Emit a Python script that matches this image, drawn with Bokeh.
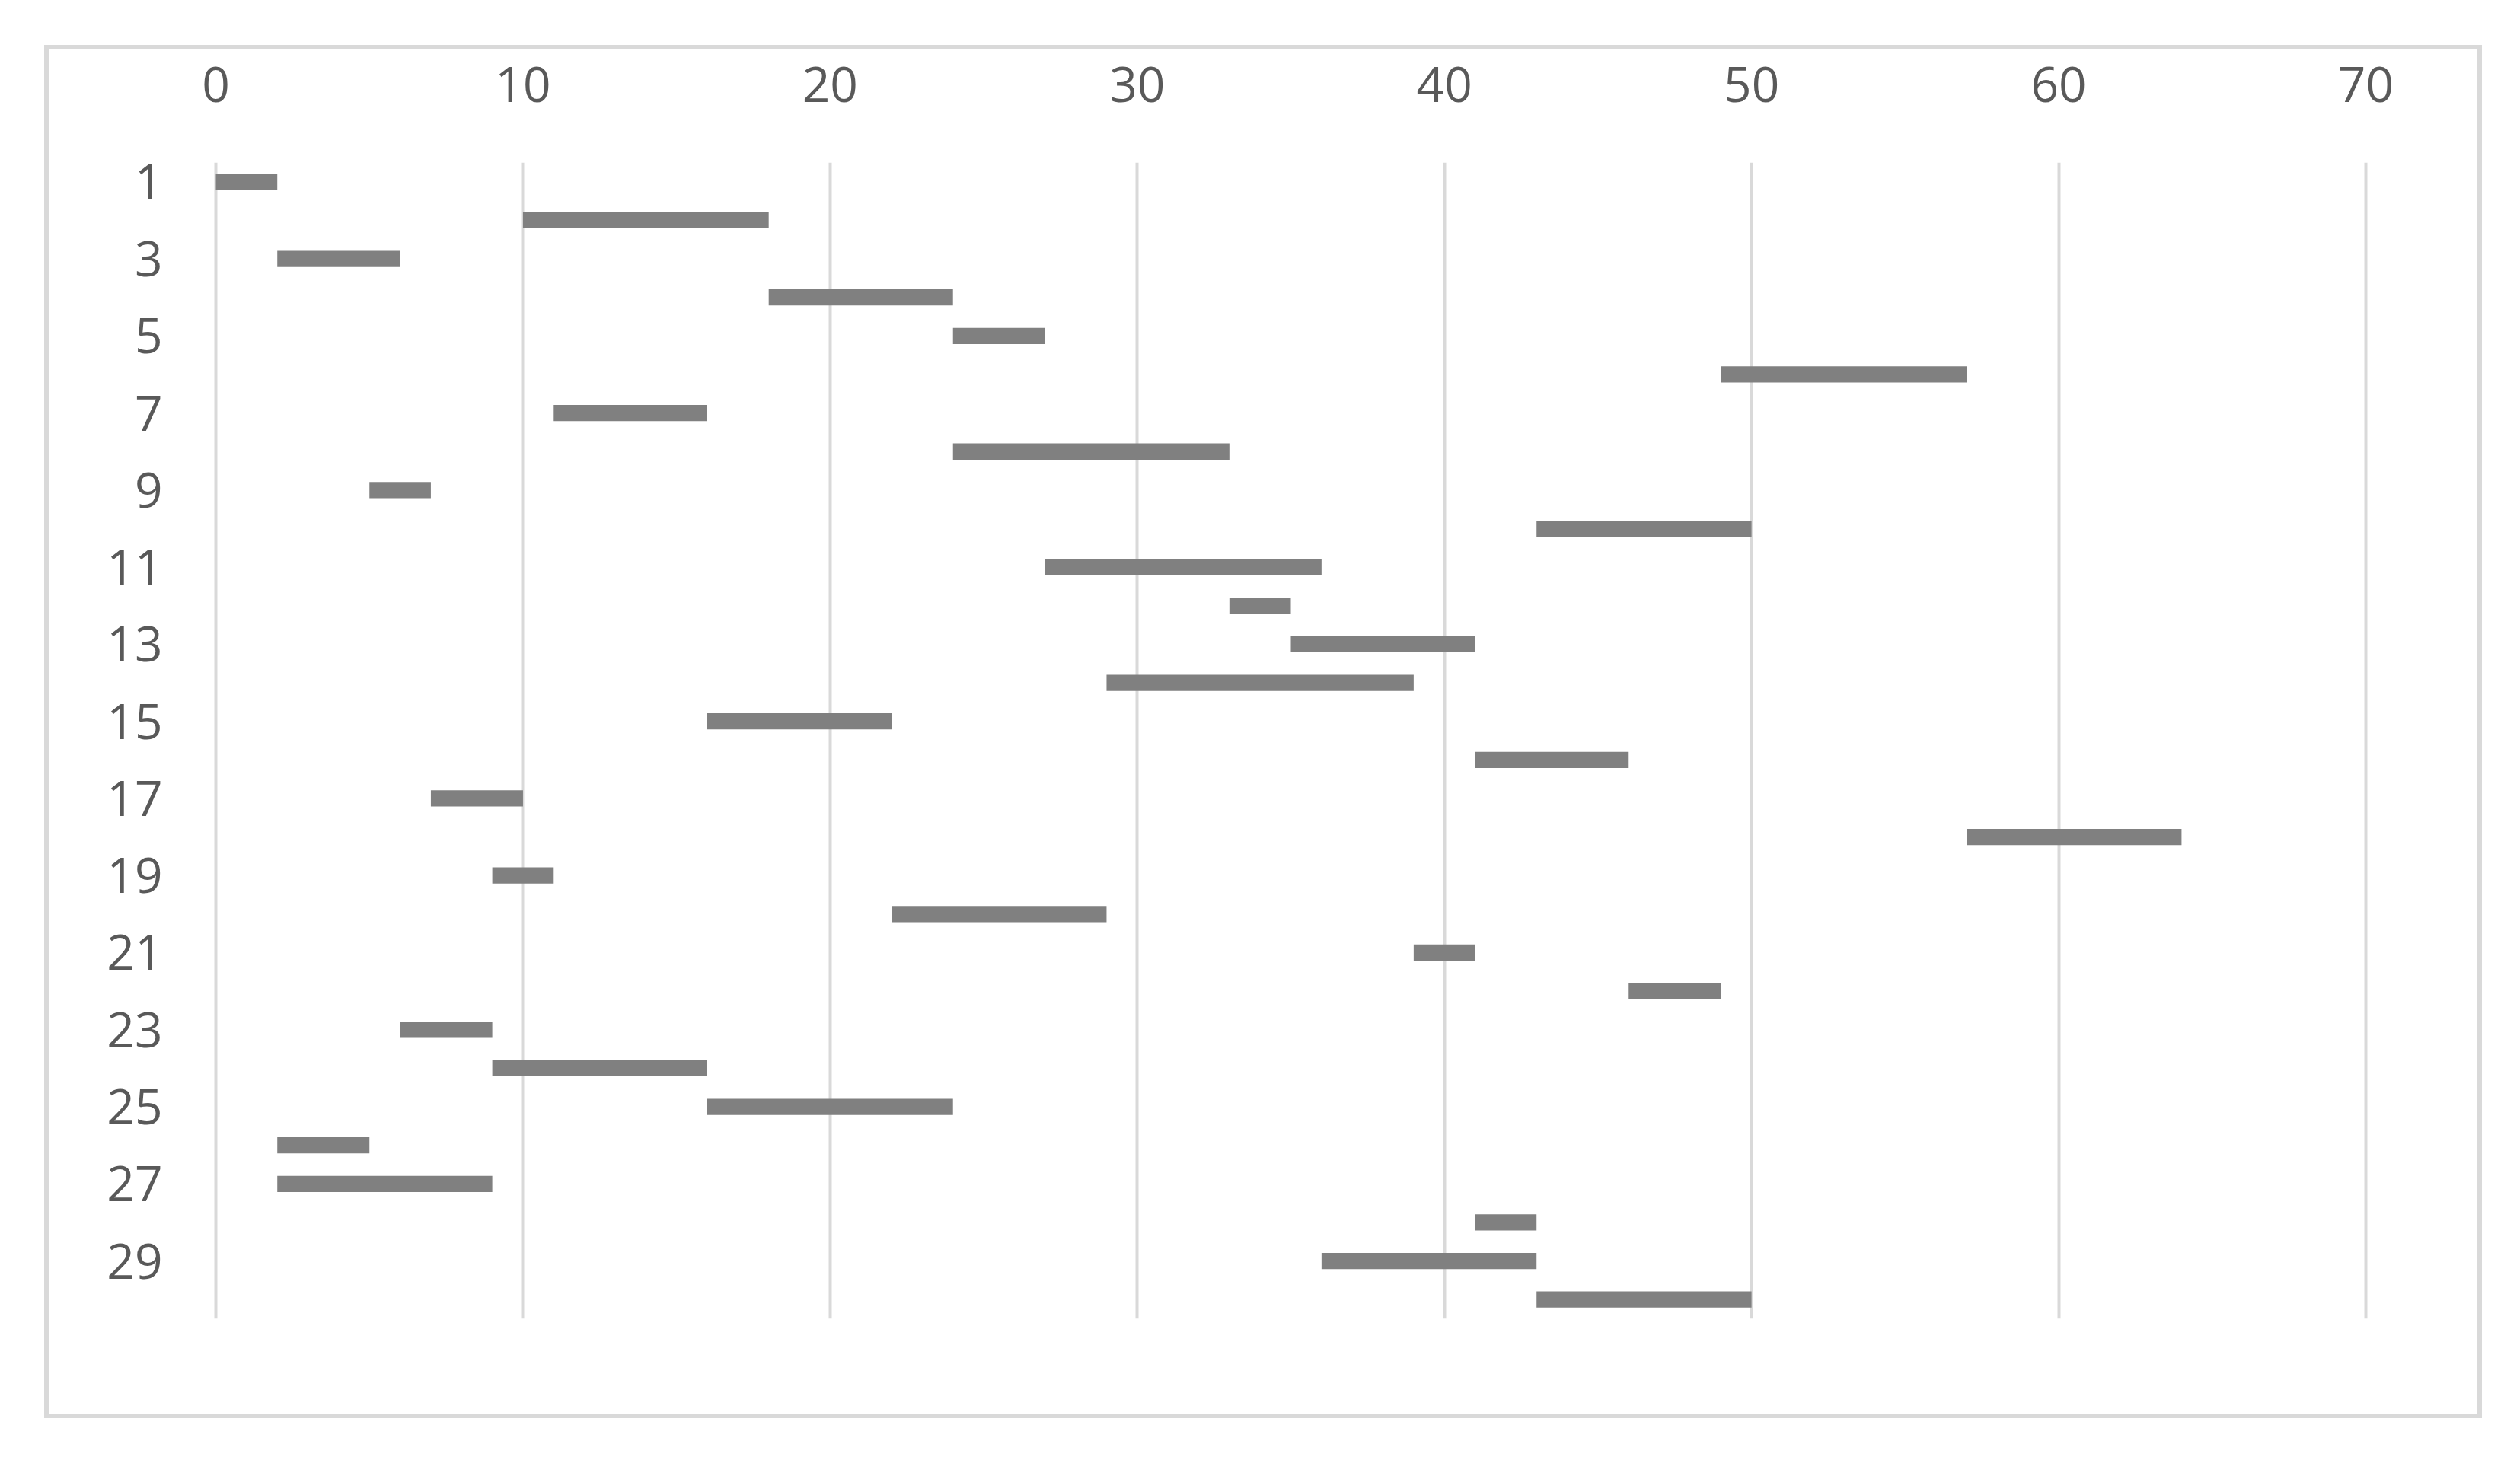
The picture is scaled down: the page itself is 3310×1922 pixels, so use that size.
from bokeh.plotting import figure
from bokeh.models import Range1d, FixedTicker, ColumnDataSource
from bokeh.embed import file_html
from bokeh.resources import INLINE

# ---- data ----
tasks = list(range(1, 31))
start = [0, 10, 2, 18, 24, 49, 11, 24, 5, 43,
         27, 33, 35, 29, 16, 41, 7, 57, 9, 22,
         39, 46, 6, 9, 16, 2, 2, 41, 36, 43]
end = [2, 18, 6, 24, 27, 57, 16, 33, 7, 50,
       36, 35, 41, 39, 22, 46, 10, 64, 11, 29,
       41, 49, 9, 16, 24, 5, 9, 43, 43, 50]
x_ticks = [0, 10, 20, 30, 40, 50, 60, 70]
y_ticks = [1, 3, 5, 7, 9, 11, 13, 15, 17, 19, 21, 23, 25, 27, 29]

W, H = 3190, 1792
FONT = "Open Sans"
TXT = "#595959"
GRID = "#d9d9d9"

src = ColumnDataSource(dict(task=tasks, start=start, end=end))

p = figure(width=W, height=H, output_backend="svg", toolbar_location=None,
           x_range=Range1d(-0.1, 70.1), y_range=Range1d(30.5, 0.5),
           x_axis_location="above",
           min_border_left=215, min_border_right=143,
           min_border_top=148, min_border_bottom=125,
           margin=(65, 0, 0, 64))
p.styles = {"outline": "6px solid #d9d9d9"}
p.outline_line_color = None
p.background_fill_color = "white"
p.border_fill_color = "white"

p.hbar(y="task", left="start", right="end", height=0.42, source=src,
       fill_color="#808080", line_color=None)

xa = p.xaxis[0]
xa.ticker = FixedTicker(ticks=x_ticks)
xa.axis_line_color = None
xa.major_tick_line_color = None
xa.minor_tick_line_color = None
xa.major_label_text_font = FONT
xa.major_label_text_font_size = "64px"
xa.major_label_text_color = TXT
xa.major_label_standoff = 74

ya = p.yaxis[0]
ya.ticker = FixedTicker(ticks=y_ticks)
ya.axis_line_color = None
ya.major_tick_line_color = None
ya.minor_tick_line_color = None
ya.major_label_text_font = FONT
ya.major_label_text_font_size = "64px"
ya.major_label_text_color = TXT
ya.major_label_standoff = 60

p.xgrid.ticker = FixedTicker(ticks=x_ticks)
p.xgrid.grid_line_color = GRID
p.xgrid.grid_line_width = 4
p.ygrid.grid_line_color = None

open("out.html", "w").write(file_html(p, INLINE))
